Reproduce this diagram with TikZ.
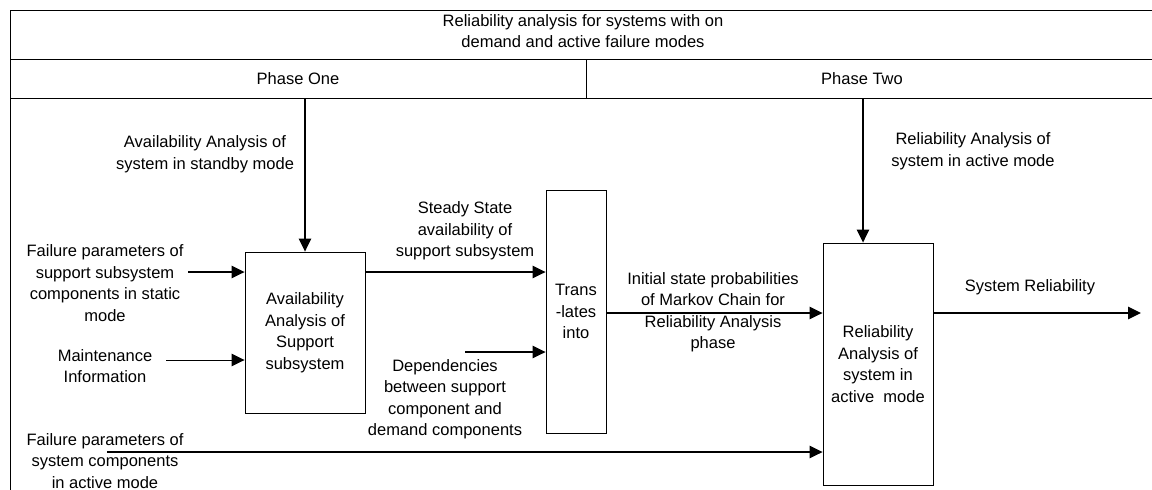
\documentclass[tikz,border=0pt]{standalone}
\usepackage{fontspec}
\setmainfont{Liberation Sans}
\usetikzlibrary{arrows.meta}
\begin{document}
\begin{tikzpicture}[x=1pt,y=-1pt,
  txt/.style={align=center,inner sep=0pt,font=\fontsize{16.5}{21.5}\selectfont},
  blk/.style={draw,line width=0.9pt,align=center,inner sep=0pt,font=\fontsize{16.5}{21.5}\selectfont},
  frm/.style={line width=0.8pt},
  arr/.style={line width=1.3pt,-{Triangle[length=13pt,width=12.5pt]}}]
\useasboundingbox (0,0) rectangle (1152,490);
% frame
\draw[frm] (10,490) -- (10,10) -- (1152,10);
\draw[frm] (10,59) -- (1152,59);
\draw[frm] (10,98) -- (1152,98);
\draw[frm] (586,59) -- (586,98);
\node[txt] (title) at (583,31) {Reliability analysis for systems with on\\demand and active failure modes};
\node[txt] (ph1) at (298,79) {Phase One};
\node[txt] (ph2) at (862,79) {Phase Two};
% boxes
\node[blk,minimum width=120pt,minimum height=161pt] (b1) at (305,332.5) {Availability\\Analysis of\\Support\\subsystem};
\node[blk,minimum width=60pt,minimum height=243pt] (b2) at (576,311.5) {Trans\\-lates\\into};
\node[blk,minimum width=110pt,minimum height=242pt] (b3) at (878,364) {Reliability\\Analysis of\\system in\\active\ \ mode};
% labels
\node[txt] (lstand) at (205,154) {Availability Analysis of\\system in standby mode};
\node[txt] (lfps) at (105,283) {Failure parameters of\\support subsystem\\components in static\\mode};
\node[txt] (lmain) at (105,366) {Maintenance\\Information};
\node[txt] (lfpa) at (105,461) {Failure parameters of\\system components\\in active mode};
\node[txt] (lsteady) at (465,231) {Steady State\\availability of\\support subsystem};
\node[txt] (ldep) at (445,399) {Dependencies\\between support\\component and\\demand components};
\node[txt] (linit) at (713,312) {Initial state probabilities\\of Markov Chain for\\Reliability Analysis\\phase};
\node[txt] (lsys) at (1030,287) {System Reliability};
\node[txt] (lact) at (973,151) {Reliability Analysis of\\system in active mode};
% connector ends
\coordinate (t1) at (305,98);
\coordinate (t2) at (863,98);
\coordinate (s1) at (188,272);
\coordinate (s2) at (166,360);
\coordinate (s3) at (465,352);
\coordinate (s4) at (107,452);
\coordinate (e1) at (1141,313);
\coordinate (y272) at (0,272);
\coordinate (y313) at (0,313);
% arrows
\draw[arr] (t1) -- (b1.north);
\draw[arr] (t2) -- (t2 |- b3.north);
\draw[arr] (s1) -- (s1 -| b1.west);
\draw[arr,line width=1pt] (s2) -- (s2 -| b1.west);
\draw[arr] (b1.east |- y272) -- (b2.west |- y272);
\draw[arr] (s3) -- (s3 -| b2.west);
\draw[arr] (b2.east |- y313) -- (b3.west |- y313);
\draw[arr] (b3.east |- y313) -- (e1);
\draw[arr] (s4) -- (s4 -| b3.west);
\end{tikzpicture}
\end{document}
